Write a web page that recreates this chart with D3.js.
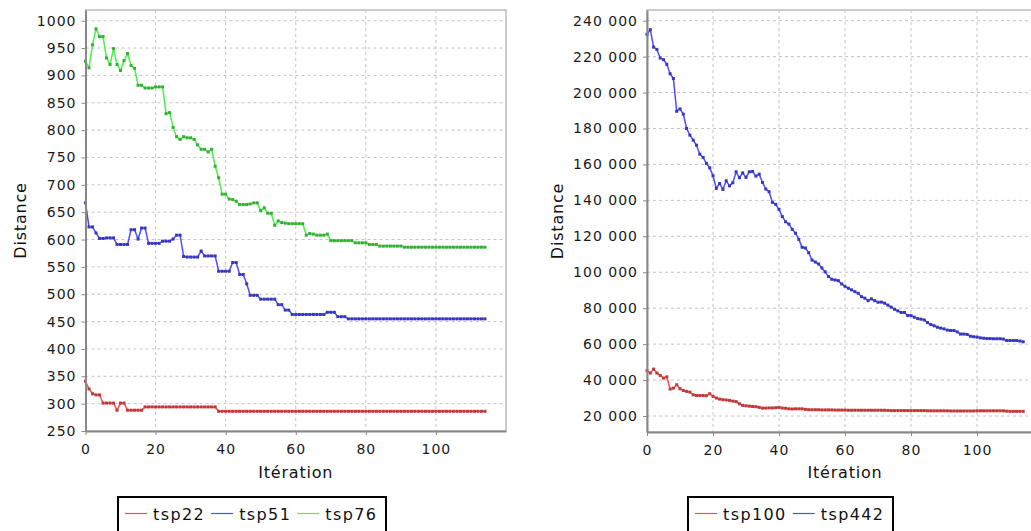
<!DOCTYPE html>
<meta charset="utf-8">
<script src="https://cdn.jsdelivr.net/npm/d3@7"></script>
<style>
    body { margin: 0; background: #fff; }
    text { font-family: "DejaVu Sans", sans-serif; }
    .tick text { font-size: 14px; letter-spacing: 1px; fill: #1a1a1a; }
    .tick line { stroke: #888; }
    .domain { stroke: #888; stroke-width: 2px; }
    .grid line { stroke: #c4c4c4; stroke-dasharray: 3, 3; stroke-width: 1px; }
    .title { font-size: 16px; letter-spacing: 0.8px; fill: #111; }
    .legend text { font-size: 16px; letter-spacing: 1.4px; fill: #111; }
</style>
<body>
<script>

// iteration 0 .. 114 for every series
var tsp22 = [341, 327, 318, 316, 316, 301, 301, 301, 301, 288,
    301, 301, 288, 288, 288, 288, 288, 294, 294, 294,
    294, 294, 294, 294, 294, 294, 294, 294, 294, 294,
    294, 294, 294, 294, 294, 294, 294, 294, 286, 286,
    286, 286, 286, 286, 286, 286, 286, 286, 286, 286,
    286, 286, 286, 286, 286, 286, 286, 286, 286, 286,
    286, 286, 286, 286, 286, 286, 286, 286, 286, 286,
    286, 286, 286, 286, 286, 286, 286, 286, 286, 286,
    286, 286, 286, 286, 286, 286, 286, 286, 286, 286,
    286, 286, 286, 286, 286, 286, 286, 286, 286, 286,
    286, 286, 286, 286, 286, 286, 286, 286, 286, 286,
    286, 286, 286, 286, 286];

var tsp51 = [667, 623, 623, 612, 602, 602, 603, 603, 603, 591,
    591, 591, 591, 618, 618, 601, 621, 621, 593, 593,
    593, 593, 597, 597, 597, 601, 608, 608, 569, 568,
    568, 568, 568, 579, 570, 570, 570, 570, 542, 542,
    542, 542, 558, 558, 536, 536, 519, 498, 498, 498,
    491, 491, 491, 491, 491, 481, 481, 471, 471, 463,
    463, 463, 463, 463, 463, 463, 463, 463, 463, 467,
    467, 467, 459, 459, 459, 455, 455, 455, 455, 455,
    455, 455, 455, 455, 455, 455, 455, 455, 455, 455,
    455, 455, 455, 455, 455, 455, 455, 455, 455, 455,
    455, 455, 455, 455, 455, 455, 455, 455, 455, 455,
    455, 455, 455, 455, 455];

var tsp76 = [926, 914, 956, 985, 971, 971, 932, 920, 949, 920,
    909, 927, 940, 918, 913, 882, 882, 877, 877, 877,
    879, 879, 879, 830, 832, 805, 788, 783, 788, 786,
    786, 783, 773, 765, 765, 760, 765, 734, 713, 683,
    683, 674, 673, 670, 664, 664, 664, 665, 667, 667,
    653, 658, 648, 648, 626, 634, 631, 630, 629, 629,
    629, 629, 629, 608, 611, 610, 608, 608, 608, 610,
    598, 598, 598, 598, 598, 598, 598, 594, 594, 594,
    594, 591, 591, 591, 588, 588, 588, 588, 588, 588,
    588, 586, 586, 586, 586, 586, 586, 586, 586, 586,
    586, 586, 586, 586, 586, 586, 586, 586, 586, 586,
    586, 586, 586, 586, 586];

var tsp100 = [45200, 43900, 46100, 43900, 42600, 41100, 41800, 35000, 35500, 37400,
    35200, 34200, 33700, 33300, 31800, 31400, 31400, 31400, 31300, 32400,
    30900, 30000, 29400, 29100, 28900, 28700, 28300, 28000, 26800, 25900,
    25700, 25500, 25300, 25200, 24800, 24400, 24400, 24500, 24500, 24600,
    24800, 24400, 24300, 24000, 23900, 24000, 24000, 24000, 23700, 23500,
    23500, 23500, 23500, 23400, 23400, 23400, 23400, 23300, 23300, 23300,
    23300, 23200, 23200, 23200, 23200, 23200, 23200, 23200, 23200, 23200,
    23200, 23200, 23200, 23100, 23000, 23000, 23000, 23000, 23000, 23000,
    23000, 23000, 23000, 23000, 23000, 22900, 22900, 22900, 22900, 22900,
    22900, 22900, 22800, 22800, 22800, 22800, 22800, 22800, 22800, 22800,
    22900, 22900, 22900, 22900, 22900, 22900, 22900, 22900, 22900, 22700,
    22600, 22600, 22600, 22600, 22600];

var tsp442 = [232400, 235000, 225300, 224000, 219200, 218300, 215700, 210500, 207800, 189600,
    190900, 188000, 180000, 176300, 173500, 170700, 165700, 163900, 160600, 158100,
    153700, 146700, 149400, 146100, 150900, 148100, 149800, 155900, 152600, 155300,
    152800, 155900, 156100, 153500, 154600, 150000, 146300, 144800, 138900, 137800,
    135000, 131000, 128100, 126800, 123900, 121700, 118300, 113900, 113500, 110900,
    106800, 105700, 104600, 102400, 100200, 97600, 96100, 95700, 95300, 93500,
    92200, 91100, 90200, 89200, 88300, 86400, 85600, 84200, 85200, 84200,
    83300, 83400, 82800, 81700, 80600, 79400, 78500, 77600, 77600, 75900,
    75900, 75000, 74200, 73900, 73500, 72000, 70900, 70200, 69400, 68900,
    68500, 67800, 67600, 67600, 66800, 65600, 65600, 65400, 64400, 64100,
    63900, 63500, 63300, 63100, 63100, 63000, 63000, 63000, 62800, 62000,
    62000, 62000, 62000, 61700, 61300];

var xTicks = [0, 20, 40, 60, 80, 100];
var yTicksLeft = [250, 300, 350, 400, 450, 500, 550, 600, 650, 700, 750, 800, 850, 900, 950, 1000];
var yTicksRight = [20000, 40000, 60000, 80000, 100000, 120000, 140000, 160000, 180000, 200000, 220000, 240000];

var leftSeries = [
    { name: "tsp22", values: tsp22, line: "#ff4d4d", mark: "#c03838" },
    { name: "tsp51", values: tsp51, line: "#4d4dff", mark: "#3838bc" },
    { name: "tsp76", values: tsp76, line: "#4df04d", mark: "#32b032" }
];
var rightSeries = [
    { name: "tsp100", values: tsp100, line: "#ff4d4d", mark: "#c03838" },
    { name: "tsp442", values: tsp442, line: "#4d4dff", mark: "#3838bc" }
];

var width = 1031, height = 531;

var svg = d3.select("body").append("svg")
    .attr("width", width)
    .attr("height", height);

var fr = d3.formatLocale({ decimal: ",", thousands: " ", grouping: [3], currency: ["", ""] }).format(",d");

function drawPanel(cfg) {
    var x = d3.scaleLinear().domain([0, 120]).range([cfg.left, cfg.right]);
    var y = d3.scaleLinear().domain(cfg.yDomain).range([cfg.bottom, cfg.top]);

    var g = svg.append("g");

    // plot outline
    g.append("rect")
        .attr("x", cfg.left).attr("y", cfg.top)
        .attr("width", cfg.right - cfg.left).attr("height", cfg.bottom - cfg.top)
        .attr("fill", "#fff").attr("stroke", "#999").attr("stroke-width", 1);

    // grid
    var grid = g.append("g").attr("class", "grid");
    grid.selectAll("line.v").data(xTicks.filter(function (d) { return d > 0; }))
        .enter().append("line")
        .attr("x1", function (d) { return x(d); }).attr("x2", function (d) { return x(d); })
        .attr("y1", cfg.top).attr("y2", cfg.bottom);
    grid.selectAll("line.h").data(cfg.yTicks)
        .enter().append("line")
        .attr("y1", function (d) { return y(d); }).attr("y2", function (d) { return y(d); })
        .attr("x1", cfg.left).attr("x2", cfg.right);

    // series
    var line = d3.line()
        .x(function (d, i) { return x(i); })
        .y(function (d) { return y(d); });

    cfg.series.forEach(function (s) {
        g.append("path")
            .datum(s.values)
            .attr("d", line)
            .attr("fill", "none")
            .attr("stroke", s.line)
            .attr("stroke-width", 1.5);
        g.append("g").selectAll("rect")
            .data(s.values)
            .enter().append("rect")
            .attr("x", function (d, i) { return x(i) - 1.5; })
            .attr("y", function (d) { return y(d) - 1.5; })
            .attr("width", 3).attr("height", 3)
            .attr("fill", s.mark);
    });

    // axes
    g.append("g")
        .attr("transform", "translate(0," + cfg.bottom + ")")
        .call(d3.axisBottom(x).tickValues(xTicks).tickSize(4).tickPadding(8).tickSizeOuter(0))
        .selectAll("text").attr("dy", "0.78em");

    g.append("g")
        .attr("transform", "translate(" + cfg.left + ",0)")
        .call(d3.axisLeft(y).tickValues(cfg.yTicks).tickFormat(cfg.fmt).tickSize(4).tickPadding(5).tickSizeOuter(0));

    g.selectAll(".domain").attr("stroke", "#888");

    // titles
    g.append("text").attr("class", "title")
        .attr("x", (cfg.left + cfg.right) / 2).attr("y", 478)
        .attr("text-anchor", "middle")
        .text("Itération");

    g.append("text").attr("class", "title")
        .attr("transform", "translate(" + cfg.yTitleX + "," + ((cfg.top + cfg.bottom) / 2) + ") rotate(-90)")
        .attr("text-anchor", "middle")
        .text("Distance");

    // legend
    var lg = svg.append("g").attr("class", "legend");
    lg.append("rect")
        .attr("x", cfg.legend.x).attr("y", 497)
        .attr("width", cfg.legend.w).attr("height", 45)
        .attr("fill", "#fff").attr("stroke", "#000").attr("stroke-width", 2);
    var cx = cfg.legend.x + 7;
    cfg.series.forEach(function (s) {
        lg.append("line")
            .attr("x1", cx).attr("x2", cx + 22)
            .attr("y1", 513.5).attr("y2", 513.5)
            .attr("stroke", s.line).attr("stroke-width", 1.2);
        var t = lg.append("text")
            .attr("x", cx + 28).attr("y", 519.5)
            .text(s.name);
        cx += 28 + t.node().getComputedTextLength() + 6;
    });
}

drawPanel({
    left: 85.5, right: 506, top: 10, bottom: 431,
    yDomain: [250, 1019.6], yTicks: yTicksLeft, fmt: d3.format("d"),
    series: leftSeries, yTitleX: 26,
    legend: { x: 118, w: 268 }
});

drawPanel({
    left: 647, right: 1043, top: 10, bottom: 432,
    yDomain: [11100, 245950], yTicks: yTicksRight, fmt: fr,
    series: rightSeries, yTitleX: 563,
    legend: { x: 688, w: 205 }
});

</script>
</body>
